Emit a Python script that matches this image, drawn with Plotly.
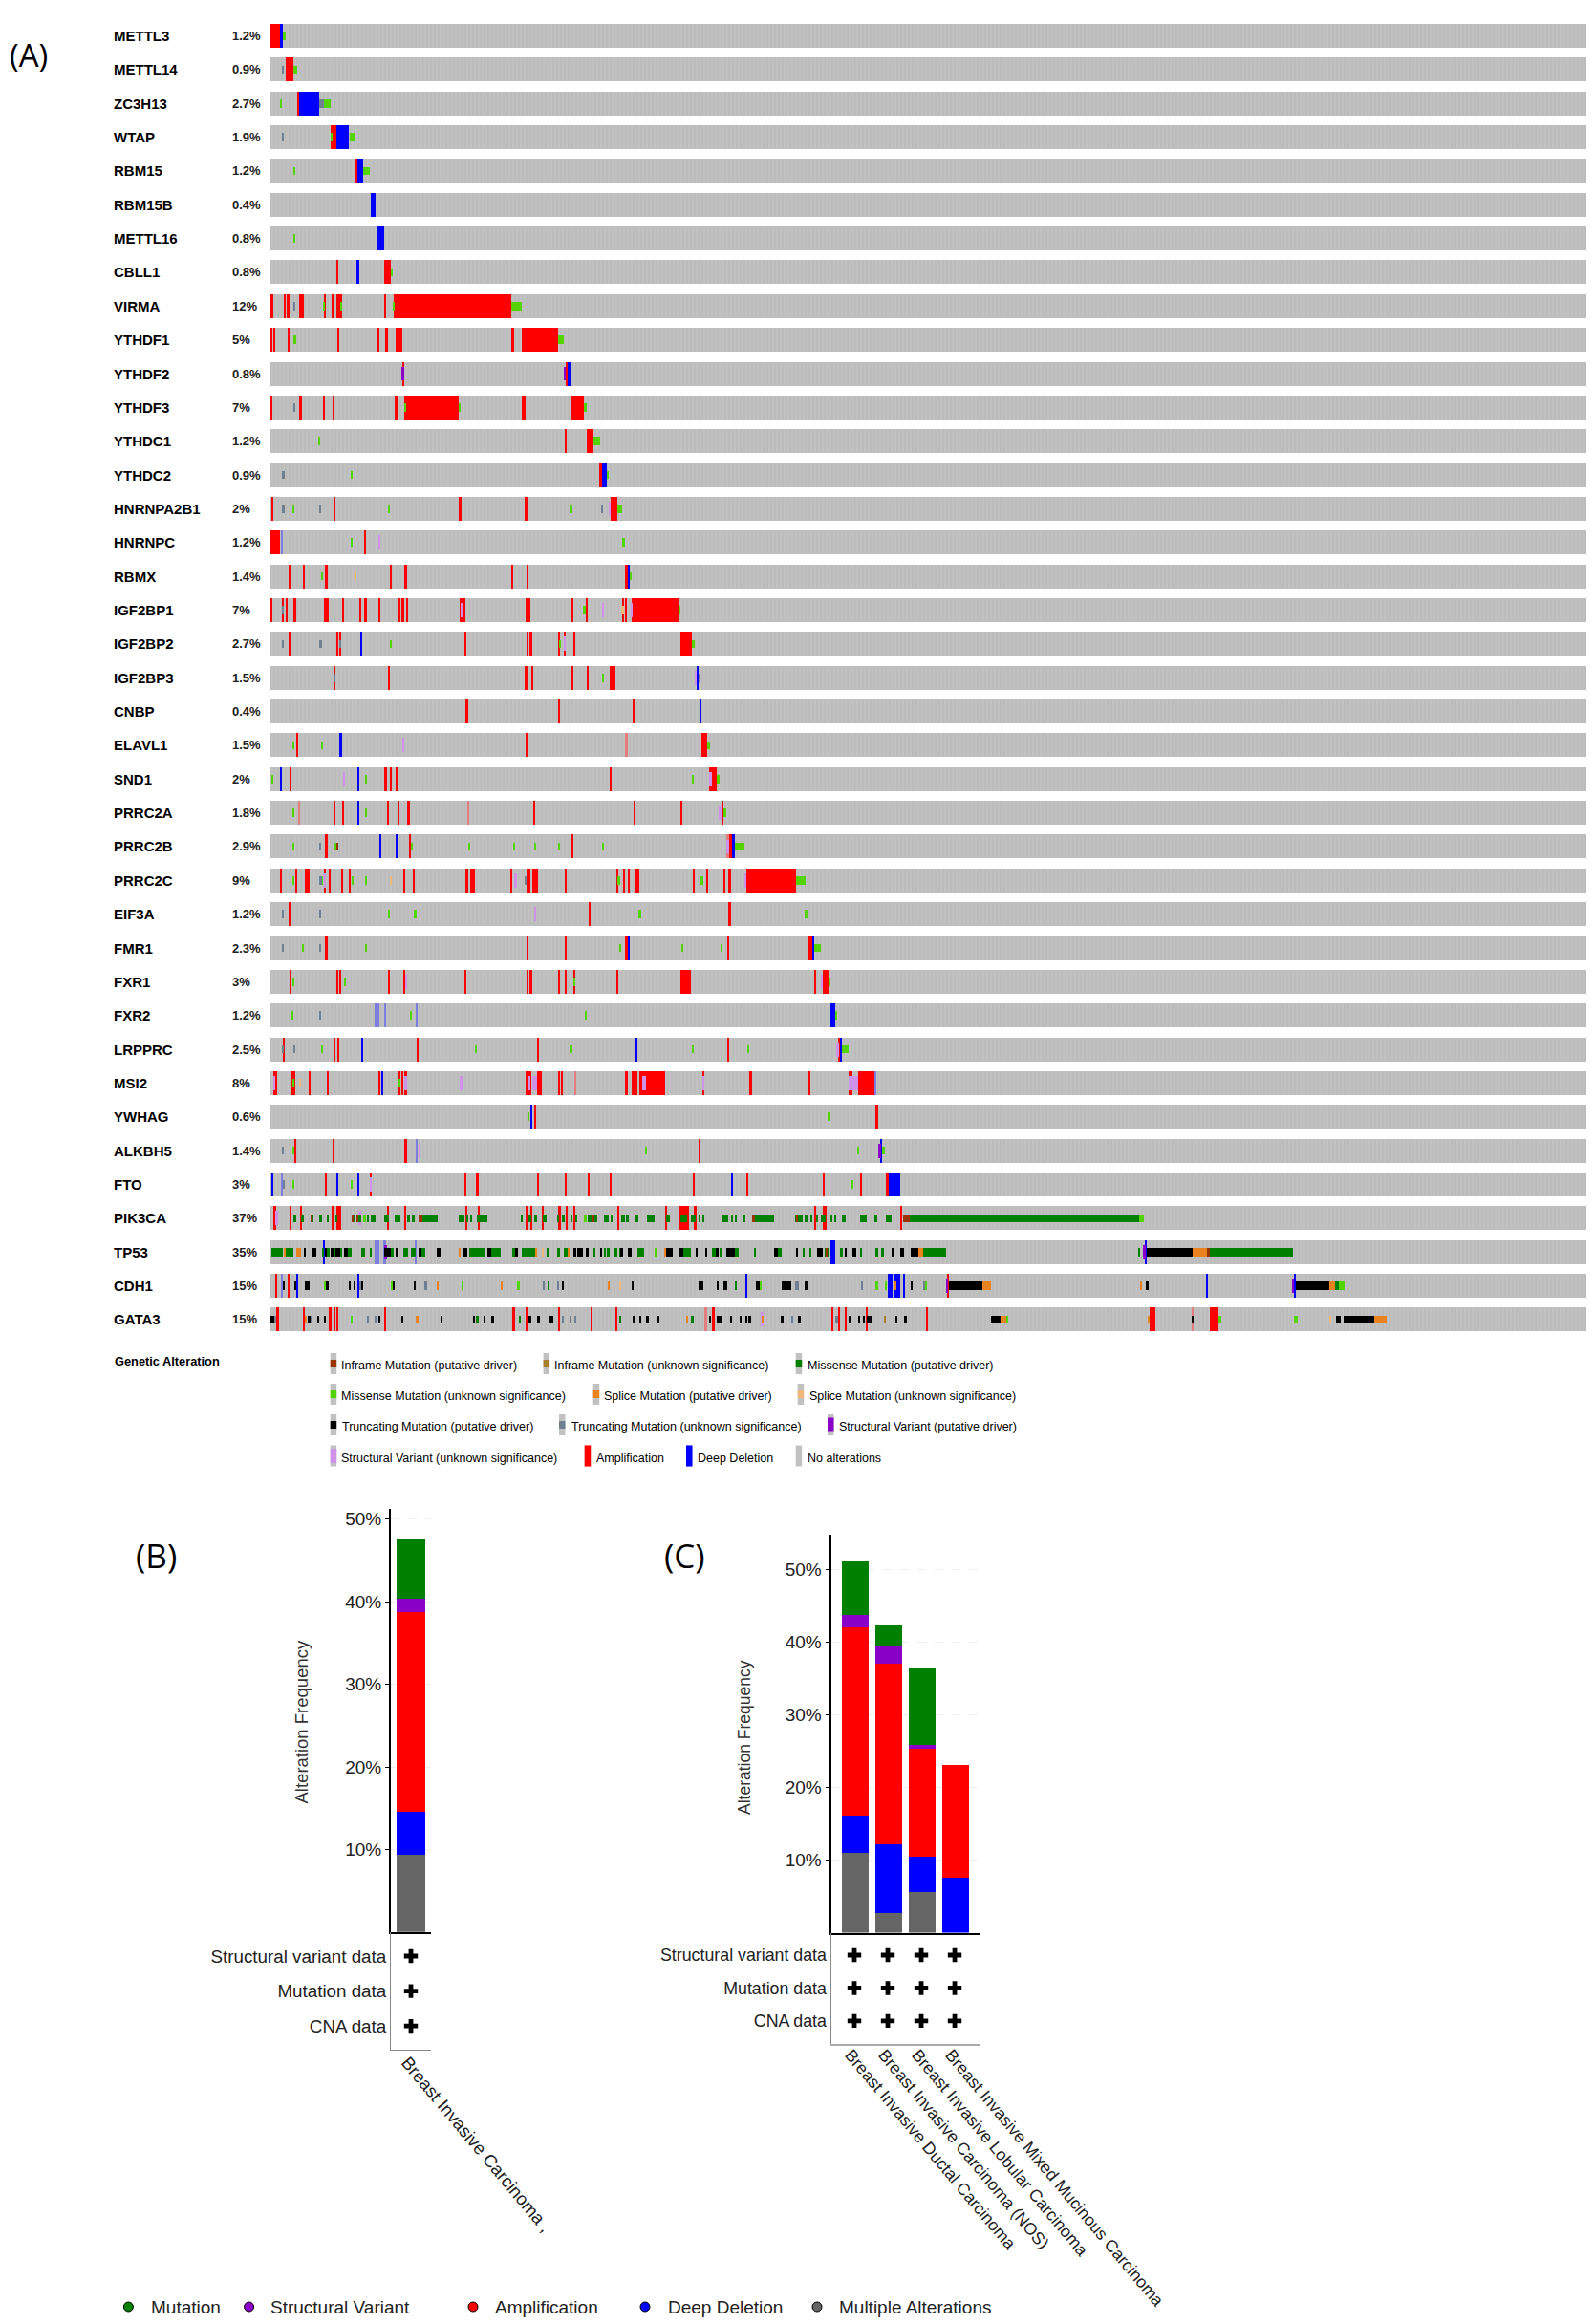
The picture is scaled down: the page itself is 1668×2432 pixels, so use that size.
#!/usr/bin/env python3

import numpy as np
import plotly.graph_objects as go

W, H = 1668, 2432
FONT = 'Liberation Sans'
BODY_MARGIN = 8  # the page's default body margin pushes the svg right and down

# oncoprint values, one list per gene: (alteration, first sample, n samples)
N_SAMPLES = 1091

METTL3 = [('amp', 0, 8), ('del', 8, 2), ('msu', 10, 3)]
METTL14 = [('tru', 10, 1), ('amp', 13, 6), ('msu', 19, 3)]
ZC3H13 = [('msu', 8, 1), ('amp', 22, 2), ('del', 24, 16), ('tru', 40, 4), ('msu', 44, 6)]
WTAP = [('tru', 10, 1), ('msu', 50, 1), ('amp', 50, 5), ('del', 55, 10), ('msu', 66, 4)]
RBM15 = [('msu', 19, 1), ('amp', 70, 2), ('del', 72, 5), ('msu', 77, 5)]
RBM15B = [('del', 83, 4)]
METTL16 = [('msu', 19, 1), ('amp', 88, 1), ('del', 89, 5)]
CBLL1 = [('amp', 54.7, 1.5), ('del', 72, 1.5), ('amp', 94, 6), ('msu', 100, 1)]
VIRMA = [('amp', 0, 2.5), ('amp', 11, 2), ('amp', 13.5, 2), ('tru', 19, 1), ('amp', 24, 4),
         ('amp', 44, 2), ('msu', 44, 1), ('amp', 51, 2), ('amp', 55, 4), ('msu', 58.5, 1),
         ('amp', 94, 2), ('msu', 102, 1), ('amp', 102, 97.5), ('msu', 199.5, 9)]
YTHDF1 = [('amp', 0, 1.5), ('amp', 3, 1), ('amp', 14, 2), ('msu', 19, 2), ('amp', 56, 1),
          ('amp', 89, 1), ('amp', 95, 2), ('amp', 104, 5), ('amp', 199.5, 2),
          ('amp', 208, 30), ('msu', 238, 5)]
YTHDF2 = [('amp', 109, 2), ('svd', 109, 1.5), ('svd', 243, 1.6), ('amp', 245, 1), ('del', 246, 3)]
YTHDF3 = [('amp', 0, 1), ('tru', 19, 1), ('amp', 24, 2), ('amp', 44, 1), ('amp', 52, 1),
          ('amp', 103, 3), ('msu', 111, 1), ('amp', 111, 45), ('msu', 156, 1),
          ('amp', 208, 3), ('amp', 249.6, 10), ('msu', 259.5, 2.5)]
YTHDC1 = [('msu', 40, 1), ('amp', 244.4, 1), ('amp', 262, 5.5), ('msu', 267.5, 5.5)]
YTHDC2 = [('tru', 9.5, 2), ('msu', 66.7, 1.3), ('amp', 273, 1.4), ('del', 274.4, 4), ('msu', 278.4, 2)]
HNRNPA2B1 = [('amp', 1, 1.4), ('tru', 9.5, 2), ('msu', 18.7, 1), ('tru', 40.4, 1.6), ('amp', 53, 1),
             ('msu', 97.4, 1.6), ('amp', 156.7, 1.3), ('amp', 211.3, 1.4), ('msu', 248.5, 1.3),
             ('tru', 274, 1), ('svu', 280.7, 1), ('amp', 281.5, 5.8), ('msu', 287.3, 4.2)]
HNRNPC = [('amp', 0, 8), ('del2', 8.4, 2), ('msu', 66.7, 1.3), ('amp', 77.6, 1.4),
          ('svu', 89.7, 1.6), ('msu', 291.3, 2.4)]
RBMX = [('amp', 15.8, 1), ('amp', 27.7, 1), ('msu', 42, 1), ('amp', 45.9, 1.3), ('spu', 70.2, 1),
        ('amp', 99, 1), ('amp', 111.6, 1.4), ('amp', 199.7, 1), ('amp', 212.4, 1.3),
        ('amp', 293.7, 2.1), ('del', 295.8, 1.6), ('msu', 297.4, 1.8)]
IGF2BP1 = [('amp', 0, 1.3), ('amp', 9.5, 1.8), ('tru', 9.5, 1.8), ('amp', 13.2, 1.3), ('amp', 18.7, 2.3),
           ('amp', 45, 1.5), ('amp', 47.2, 1.3), ('amp', 59, 1.7), ('amp', 73.3, 1.7), ('amp', 77.6, 2.6),
           ('amp', 89.7, 1.6), ('amp', 106, 2), ('amp', 108.4, 2.4), ('amp', 113.2, 1),
           ('amp', 156.7, 4.8), ('svu', 157.8, 1.2), ('amp', 211.3, 1.7), ('amp', 213.7, 1.3),
           ('amp', 249.6, 1.4), ('msu', 259.6, 1.4), ('amp', 262, 1), ('svu', 275.2, 1.1),
           ('amp', 291.3, 1.7), ('spu', 291.3, 1.3), ('amp', 293.4, 1.6), ('amp', 299.2, 39.3),
           ('svu', 299.2, 1.1), ('msu', 338.5, 1.1)]
IGF2BP2 = [('amp', 15.8, 1), ('tru', 9.5, 1.8), ('tru', 40.4, 2.6), ('amp', 54.6, 1.6), ('amp', 57, 1.6),
           ('tru', 57, 1.6), ('del', 74.7, 1.3), ('msu', 99.7, 1), ('amp', 161.5, 1), ('amp', 212, 1.7),
           ('amp', 214.8, 2.2), ('amp', 238.5, 1.5), ('msu', 239.8, 1.2), ('amp', 243, 1.6),
           ('svu', 243, 1.6), ('amp', 251, 1.2), ('amp', 339.3, 9.7), ('msu', 349, 2.7)]
IGF2BP3 = [('amp', 52.8, 1), ('tru', 52.8, 1), ('amp', 97.4, 1.6), ('amp', 211.3, 1.4), ('amp', 216.9, 1),
           ('amp', 249.6, 1.4), ('amp', 262.8, 1.2), ('msu', 275.2, 1.1), ('amp', 281.3, 4.5),
           ('svu', 351.7, 1.1), ('del', 353, 1.9), ('tru', 354.9, 1.3)]
CNBP = [('amp', 161.7, 1.9), ('amp', 238.5, 1.5), ('amp', 300, 1.6), ('del', 356, 1.3)]
ELAVL1 = [('msu', 18.7, 1), ('amp', 21.9, 1.3), ('msu', 42, 1), ('del', 57, 2.4), ('svu', 110, 1),
          ('amp', 211.3, 2.4), ('amp2', 294.5, 1.5), ('amp', 357, 4.5), ('msu', 361.5, 2.4)]
SND1 = [('msu', 0.8, 1.6), ('del', 8, 1.5), ('amp', 16.4, 1.3), ('svu', 60.4, 1.6), ('del', 72, 1.6),
        ('msu', 78.9, 1.3), ('amp', 94.2, 2.6), ('amp', 99, 1), ('amp', 104, 1.3), ('amp', 281.3, 1.5),
        ('msu', 349, 1.7), ('amp', 363.6, 5.8), ('svu', 363.6, 2.4), ('msu', 369.6, 2.4)]
PRRC2A = [('msu', 18.7, 1), ('amp2', 23, 1.3), ('amp', 52.8, 1), ('amp', 59, 1.7), ('del', 72, 1.6),
          ('msu', 78.9, 1.3), ('amp', 96.6, 1), ('amp', 105.3, 1), ('amp', 114, 1.3), ('amp2', 163.3, 1.1),
          ('amp', 217.7, 1.6), ('amp', 301.6, 1), ('amp', 339.3, 1.7), ('svu', 372, 1.4),
          ('amp', 373.6, 1.6), ('msu', 375.2, 2.8)]
PRRC2B = [('msu', 18.7, 1), ('tru', 40.4, 1.6), ('amp', 45.9, 1.3), ('msu', 53.6, 1.4), ('ifd', 55, 1),
          ('del', 91, 1), ('del', 104, 1.3), ('amp', 115, 1), ('msu', 116.4, 1.8), ('msu', 164, 1.4),
          ('msu', 201.3, 1.3), ('msu', 219, 1.3), ('msu', 238.5, 1.5), ('amp', 249.6, 1.4),
          ('msu', 275, 1.3), ('amp2', 377.8, 1.9), ('svu', 377.8, 1.9), ('amp', 380, 2.3),
          ('del', 382.3, 2.4), ('msu', 384.7, 7.9)]
PRRC2C = [('amp', 8, 1.2), ('amp', 20.8, 1.4), ('msu', 18.7, 1), ('amp', 28.5, 3.7), ('tru', 40.4, 2.3),
          ('msu', 42, 0.8), ('amp', 45, 1.2), ('svu', 45, 1.2), ('amp', 48.3, 1.3), ('amp', 58.6, 1),
          ('amp', 65, 1), ('msu', 67.5, 1.4), ('msu', 78.9, 1.3), ('spu', 99.7, 1), ('amp', 110.8, 1),
          ('amp', 118.2, 1.3), ('amp', 161.7, 2.1), ('amp', 165.4, 4.3), ('amp', 199.5, 1),
          ('svu', 202.6, 1.4), ('tru', 211.3, 1.1), ('amp', 212.4, 2.9), ('amp', 216.9, 2.4),
          ('amp', 220, 1.4), ('amp', 244.6, 1), ('amp', 287.3, 1), ('msu', 288, 1.4), ('amp', 292.4, 1.3),
          ('amp', 296.8, 1), ('amp', 302, 3.8), ('amp', 350.7, 1), ('msu', 357, 1.3), ('amp', 361.2, 1.3),
          ('amp', 375.5, 1.5), ('amp', 380, 1.5), ('amp', 394.2, 41), ('svu', 392.6, 1.8), ('msu', 435.2, 7.8)]
EIF3A = [('tru', 9.5, 1.8), ('amp', 15.8, 1), ('tru', 40.4, 1.6), ('msu', 97.4, 1.6), ('msu', 119.5, 1.3),
         ('svu', 219, 1.3), ('amp', 263.9, 1.3), ('msu', 305.5, 1.4), ('amp', 380, 1.5), ('msu', 442.5, 3.2)]
FMR1 = [('tru', 9.5, 1.8), ('msu', 26, 1.7), ('tru', 40.4, 1.6), ('amp', 45.9, 1.3), ('msu', 78.9, 1.3),
        ('amp', 212.4, 1.3), ('amp', 244.6, 1), ('msu', 288.9, 1.6), ('amp', 293.7, 2.1), ('del', 295.8, 1.6),
        ('msu', 340.6, 1.4), ('msu', 373.6, 1.1), ('amp', 379, 1), ('amp', 445.7, 2.9), ('del', 448.6, 1.9),
        ('msu', 450.5, 5.5)]
FXR1 = [('amp', 16.4, 1.3), ('msu', 18.7, 1), ('amp', 54.6, 1.6), ('amp', 57, 1.6), ('msu', 61.7, 1),
        ('amp', 97.4, 1.6), ('amp', 110.8, 1.1), ('svu', 111.9, 1.3), ('amp', 161.5, 1), ('amp', 212, 1.7),
        ('amp', 214.8, 2.2), ('amp', 238.5, 1.5), ('amp', 244.6, 1), ('amp', 251, 1.2), ('msu', 251, 1.2),
        ('amp', 287.3, 1), ('amp', 339.3, 9), ('amp', 450.5, 1), ('svu', 456, 1.6), ('amp', 457.6, 4.7),
        ('msu', 462.3, 1.9)]
FXR2 = [('msu', 17.4, 1.6), ('tru', 40.4, 1.6), ('del2', 86.5, 1.5), ('del2', 88.7, 1.5), ('del2', 94.2, 1.6),
        ('msu', 115.8, 1.6), ('del2', 120.3, 1.7), ('msu', 260.7, 1.3), ('del', 464.2, 3.8), ('msu', 468, 1)]
LRPPRC = [('tru', 9.5, 1.8), ('amp', 11, 1.1), ('tru', 19, 1), ('msu', 42, 1), ('amp', 52.8, 1), ('amp', 56.2, 1),
          ('del', 76, 1), ('amp', 121.4, 1.3), ('msu', 169.7, 1.3), ('amp', 221.4, 1), ('msu', 248.5, 1.5),
          ('del', 302, 1.7), ('msu', 349, 1.7), ('amp', 379, 1), ('msu', 395.3, 1.3), ('svu', 469, 2),
          ('amp', 471, 1), ('del', 472, 1.4), ('msu', 473.4, 5.6)]
MSI2 = [('amp', 2.4, 3.1), ('svu', 2.4, 1.3), ('amp', 17.4, 3.4), ('msu', 18.7, 1), ('spu', 24, 1.3),
        ('amp', 32, 1.2), ('amp', 47, 1.6), ('amp', 89.7, 1.6), ('del', 91.8, 1.6), ('amp', 106, 2),
        ('msu', 106, 2), ('amp', 108.4, 1.6), ('amp', 111.6, 1.4), ('svu', 111.6, 1.4), ('svu', 157.5, 1.5),
        ('amp', 211.3, 1.7), ('amp', 213.7, 2.3), ('svu', 213.7, 1.5), ('svu', 217, 4), ('amp', 221, 4),
        ('amp', 238.5, 1.5), ('amp', 241.2, 1), ('amp2', 251.8, 1.5), ('amp', 293.7, 2.3), ('amp', 299.2, 4.8),
        ('amp', 305.5, 21.1), ('svu', 307.7, 3.3), ('amp', 357.8, 1.6), ('svu', 357.8, 1.6), ('amp', 396.3, 2.7),
        ('amp', 445.7, 1.6), ('amp', 478.7, 3.4), ('svu', 478.7, 8.4), ('amp', 487.1, 14), ('del2', 501.1, 1)]
YWHAG = [('msu', 213.2, 1.6), ('del', 215.8, 1.1), ('amp', 219, 1.3), ('msu', 462.3, 1.4), ('amp', 501.4, 2.1)]
ALKBH5 = [('tru', 9.5, 1.8), ('msu', 18.7, 1), ('amp', 19.8, 1.6), ('amp', 51.5, 1.5), ('amp', 111.6, 1.4),
          ('del2', 120.3, 1.7), ('svu', 122.7, 1.6), ('msu', 311, 1), ('amp', 354.9, 1.3), ('msu', 486.8, 1.2),
          ('svd', 503.7, 2.1), ('del', 505.8, 1.2), ('msu', 507, 1.7)]
FTO = [('del', 0.8, 1.6), ('del2', 8.7, 1.6), ('tru', 10.3, 1), ('msu', 18.7, 1), ('amp', 45, 2), ('del', 54.6, 1.6),
       ('msu', 66.7, 1.3), ('del', 72, 1.6), ('amp', 82.3, 1.7), ('svu', 82.3, 1.7), ('amp', 161.5, 1),
       ('amp', 171, 1.3), ('amp', 221.4, 1), ('amp', 244.6, 1), ('amp', 263, 1), ('amp', 281.3, 1.5),
       ('amp', 350.7, 1), ('del', 382.3, 1.1), ('amp', 394.5, 1), ('amp', 458, 1), ('msu', 482, 1),
       ('amp', 489, 1), ('amp', 510, 2), ('del', 512, 10)]
PIK3CA = [('amp', 2, 3), ('svu', 4, 2), ('amp', 16, 1.5), ('amp', 25, 1), ('msd', 19, 2), ('msd', 25, 2.5),
          ('msd', 33, 3), ('ifd', 34, 1), ('msd', 40, 3), ('msd', 47, 1.5), ('amp', 51, 1), ('msd', 54, 1.5),
          ('amp', 55, 1.5), ('amp', 57, 1.5), ('msd', 67, 3.5), ('ifd', 68, 1), ('ifd', 72, 1), ('msd', 73, 2),
          ('svu', 73, 2), ('msu', 77, 2.5), ('msd', 80, 1.5), ('msd', 83, 4), ('amp', 97, 1.5), ('msd', 94, 4),
          ('msd', 103, 4.5), ('amp', 111, 1), ('msd', 113, 2.5), ('msd', 117, 2.5), ('ifd', 123, 2.5),
          ('msd', 125.5, 13), ('msd', 156, 5), ('amp', 162, 1), ('msd', 163, 1), ('msd', 166, 1), ('msd', 171, 9),
          ('amp', 172, 1), ('msd', 208, 1), ('amp', 212, 1.5), ('msd', 213, 3), ('amp', 215, 2), ('msd', 219, 1.5),
          ('amp', 225, 1), ('msd', 226, 3), ('msd', 238, 1), ('amp', 239, 1.5), ('msd', 242, 1.5), ('amp', 245, 1),
          ('msd', 249, 1.5), ('amp', 251, 1.5), ('msd', 253, 1.5), ('msu', 260, 2), ('msd', 263, 4), ('ifd', 267, 1.5),
          ('msd', 268.5, 2), ('msd', 276.5, 4), ('msd', 282, 1.5), ('amp', 287.5, 1), ('msd', 290.5, 3), ('msd', 295, 1.5),
          ('msd', 303, 1.5), ('msd', 312, 6.5), ('amp', 327, 1), ('msd', 327.5, 3.5), ('amp', 339, 8), ('msd', 339.5, 5.5),
          ('msd', 348, 4.5), ('amp', 351, 2), ('msd', 355, 1.5), ('msd', 358, 1.5), ('msd', 374, 5), ('msd', 382, 1),
          ('msd', 385.5, 1), ('msd', 392, 1.5), ('ifd', 399, 2.5), ('msd', 401.5, 16), ('msd', 435, 2), ('ifd', 435.5, 1.5),
          ('msd', 437, 4), ('msd', 442.5, 2.5), ('msd', 447, 2), ('amp', 450.5, 1), ('msd', 452, 2), ('msd', 456, 4),
          ('amp', 458, 2.5), ('msd', 464, 1.5), ('msd', 467.5, 1), ('msd', 473.5, 3), ('msd', 488.5, 5.5), ('msd', 501, 1.5),
          ('msd', 510, 5), ('amp', 521.5, 2), ('ifd', 524, 6), ('msd', 530, 190), ('msu', 720, 4)]
TP53 = [('msd', 1, 9), ('spd', 11, 2), ('msd', 13, 6), ('spd', 21, 4), ('trd', 28, 1), ('trd', 35, 3), ('msd', 43, 1),
        ('del', 44, 1), ('trd', 45, 2), ('msd', 47, 2), ('trd', 50, 2), ('msd', 52, 2), ('trd', 54, 4), ('msd', 58, 1),
        ('trd', 61, 3), ('msd', 64, 3), ('msd', 75, 3), ('msd', 82, 2), ('del2', 86.5, 1.5), ('del2', 88.7, 1.5),
        ('del2', 94.2, 1.5), ('trd', 94, 3), ('svd', 95, 1.5), ('trd', 97, 3), ('msd', 100, 2), ('trd', 104, 2),
        ('msd', 110, 4), ('msd', 116, 4), ('del2', 120, 1.5), ('trd', 123, 2), ('msd', 125, 3), ('trd', 138, 3),
        ('spd', 156, 1.5), ('trd', 159, 4), ('msd', 165, 5), ('msd', 170, 8), ('trd', 180, 3), ('msd', 183, 8),
        ('msd', 200, 3), ('trd', 203, 2), ('msd', 208, 11), ('spd', 219, 2), ('spu', 225, 1), ('msd', 229, 1),
        ('msd', 238, 1.5), ('msd', 243, 3), ('spd', 246, 2), ('trd', 251, 2), ('trd', 254, 5), ('trd', 261, 3),
        ('msd', 268, 1), ('trd', 273, 2), ('msd', 276, 2), ('msd', 279, 2), ('msd', 284, 3), ('msd', 289, 1),
        ('trd', 290, 2), ('trd', 296, 3), ('msd', 304, 5.5), ('msu', 318, 2.5), ('spd', 326, 2), ('trd', 328, 5),
        ('trd', 339, 3), ('msd', 342, 6), ('trd', 352, 2), ('trd', 360, 2), ('msd', 366, 3), ('trd', 369, 2),
        ('msd', 372, 2), ('trd', 378, 7), ('msd', 385, 3), ('msd', 401, 1), ('trd', 417, 3.4), ('msd', 420.4, 3),
        ('trd', 435.4, 1.6), ('msd', 441, 1.5), ('msd', 447, 1), ('trd', 452.8, 4.8), ('msd', 459, 3), ('ifd', 460, 1),
        ('del', 464.2, 3.8), ('msd', 471.8, 2.2), ('trd', 476.5, 1), ('trd', 482, 3.3), ('msd', 488.5, 1.5),
        ('msd', 501, 2.5), ('msd', 506.5, 1.5), ('trd', 515, 1), ('trd', 521.7, 3.2), ('trd', 530.4, 6.3),
        ('spd', 536.7, 4), ('msd', 540.7, 19), ('msd', 719.6, 0.9), ('svd', 723.6, 1.5), ('del', 725, 1),
        ('trd', 726, 38), ('spd', 764, 12.6), ('ifd', 776.6, 1.4), ('msd', 778, 69)]
CDH1 = [('amp', 4, 1.5), ('del2', 8.7, 1.6), ('trd', 10.3, 1), ('trd', 20, 1.5), ('amp', 14, 1.6), ('del', 22, 1.3),
        ('trd', 28.5, 4), ('msu', 44.5, 1), ('trd', 46.5, 1.5), ('trd', 65, 1), ('trd', 69, 1.5), ('del', 72, 1.6),
        ('tru', 74, 1.5), ('trd', 76, 1), ('msu', 100, 1), ('trd', 102, 1), ('trd', 119.5, 1), ('tru', 128, 1.5),
        ('spd', 138, 1.3), ('msu', 159, 1), ('spd', 191, 1), ('msu', 205, 1.3), ('tru', 226, 1), ('msd', 230, 1.5),
        ('tru', 238, 1), ('trd', 241.5, 1.3), ('spd', 279.5, 1), ('spu', 289, 1.5), ('trd', 300, 1), ('trd', 355, 3.5),
        ('trd', 370, 1), ('trd', 375, 3.5), ('msd', 385, 1), ('del', 394, 1.3), ('trd', 402, 3.5), ('msu', 405.5, 1),
        ('trd', 423.5, 8), ('tru', 435, 1), ('tru', 437, 1), ('trd', 442.5, 2.5), ('tru', 489, 1.6), ('msu', 501, 2.5),
        ('msu', 509, 1.6), ('del', 511.4, 4), ('del', 516.2, 5.5), ('spd', 517, 1.5), ('del', 524.9, 0.9),
        ('trd', 530.4, 1.9), ('tru', 540.7, 1.6), ('msu', 542.3, 1.6), ('svd', 559.7, 1.6), ('amp', 561.3, 1),
        ('trd', 562, 27.8), ('spd', 589.8, 7.1), ('spd', 720.4, 1.6), ('trd', 726, 1.5), ('del', 775.8, 0.9),
        ('svd', 847, 1), ('del', 848, 1.8), ('trd', 849.8, 27.8), ('spd', 877.6, 4.2), ('msd', 881.8, 3.2),
        ('msu', 885, 4.8)]
GATA3 = [('trd', 0, 3), ('tru', 3, 2), ('amp', 5.5, 1.5), ('amp', 27.7, 1), ('spd', 28.5, 1.5), ('trd', 31.5, 1.5),
         ('tru', 33.5, 1.5), ('trd', 39.5, 1), ('trd', 45, 1), ('amp', 49, 1.5), ('amp', 52.5, 1.5), ('amp', 54.6, 1.6),
         ('msu', 67, 1.3), ('tru', 80, 1.5), ('tru', 86.5, 1.5), ('trd', 89.5, 1.5), ('amp', 94.5, 1.5), ('trd', 108.5, 1.5),
         ('spd', 121, 1.5), ('trd', 141, 1.5), ('trd', 168, 1.5), ('msd', 171, 1.5), ('trd', 177, 1.5), ('trd', 183, 2.5),
         ('amp', 201, 1.3), ('msd', 206, 1.5), ('amp', 212, 1.5), ('trd', 214, 2.5), ('trd', 221, 2.5), ('trd', 231, 3.3),
         ('amp', 238.5, 1.6), ('tru', 241.5, 1), ('tru', 248, 1), ('tru', 252, 1.5), ('amp', 265.5, 1), ('amp', 286, 1.5),
         ('msd', 289, 1.5), ('trd', 300, 2.5), ('trd', 306, 1.5), ('trd', 311, 2.5), ('trd', 321, 1.5), ('spd', 345, 1.3),
         ('msd', 349, 1.5), ('amp2', 360, 1.5), ('trd', 363.5, 1.5), ('amp', 366.5, 1.5), ('trd', 370, 1.5), ('trd', 372, 1.5),
         ('trd', 381.5, 1), ('trd', 389, 1.5), ('trd', 393.5, 1.5), ('trd', 396.5, 1.5), ('svu', 406, 2.5), ('spd', 407, 1.5),
         ('trd', 423.5, 1.5), ('tru', 431.5, 1.5), ('trd', 437.8, 1.5), ('amp', 465.5, 1), ('tru', 468.6, 1.5), ('amp', 471, 1),
         ('amp', 476.6, 1), ('trd', 479, 1.5), ('trd', 487, 1.5), ('trd', 491, 1.5), ('amp', 494, 1), ('trd', 494, 4.7),
         ('ifu', 508.2, 1.6), ('trd', 518, 1.5), ('trd', 525.7, 1.5), ('amp', 543.6, 1.2), ('trd', 597, 8), ('spd', 605, 4.6),
         ('msu', 609.6, 1.4), ('spd', 727.5, 1), ('amp', 728.3, 4.7), ('amp2', 763, 1.7), ('trd', 764, 1), ('amp', 778, 7.3),
         ('msu', 785.3, 2.4), ('msu', 848, 3.4), ('spu', 877.6, 1.4), ('trd', 883, 1), ('trd', 885, 1.5), ('trd', 889.4, 25.2),
         ('spd', 914.6, 10.2)]

gene_names = ['METTL3', 'METTL14', 'ZC3H13', 'WTAP', 'RBM15', 'RBM15B', 'METTL16', 'CBLL1', 'VIRMA', 'YTHDF1',
              'YTHDF2', 'YTHDF3', 'YTHDC1', 'YTHDC2', 'HNRNPA2B1', 'HNRNPC', 'RBMX', 'IGF2BP1', 'IGF2BP2', 'IGF2BP3',
              'CNBP', 'ELAVL1', 'SND1', 'PRRC2A', 'PRRC2B', 'PRRC2C', 'EIF3A', 'FMR1', 'FXR1', 'FXR2',
              'LRPPRC', 'MSI2', 'YWHAG', 'ALKBH5', 'FTO', 'PIK3CA', 'TP53', 'CDH1', 'GATA3']
gene_pct = ['1.2%', '0.9%', '2.7%', '1.9%', '1.2%', '0.4%', '0.8%', '0.8%', '12%', '5%',
            '0.8%', '7%', '1.2%', '0.9%', '2%', '1.2%', '1.4%', '7%', '2.7%', '1.5%',
            '0.4%', '1.5%', '2%', '1.8%', '2.9%', '9%', '1.2%', '2.3%', '3%', '1.2%',
            '2.5%', '8%', '0.6%', '1.4%', '3%', '37%', '35%', '15%', '15%']
gene_events = [METTL3, METTL14, ZC3H13, WTAP, RBM15, RBM15B, METTL16, CBLL1, VIRMA, YTHDF1,
               YTHDF2, YTHDF3, YTHDC1, YTHDC2, HNRNPA2B1, HNRNPC, RBMX, IGF2BP1, IGF2BP2, IGF2BP3,
               CNBP, ELAVL1, SND1, PRRC2A, PRRC2B, PRRC2C, EIF3A, FMR1, FXR1, FXR2,
               LRPPRC, MSI2, YWHAG, ALKBH5, FTO, PIK3CA, TP53, CDH1, GATA3]

# panel B and C values, alteration frequency in %
profile_rows = ['Structural variant data', 'Mutation data', 'CNA data']

b_types = ['Breast Invasive Carcinoma ,']
b_multi = [9.3]
b_del = [5.3]
b_amp = [24.2]
b_sv = [1.6]
b_mut = [7.3]

c_types = ['Breast Invasive Ductal Carcinoma', 'Breast Invasive Carcinoma (NOS)',
           'Breast Invasive Lobular Carcinoma', 'Breast Invasive Mixed Mucinous Carcinoma']
c_multi = [11.0, 2.7, 5.6, 0]
c_del = [5.1, 9.5, 4.8, 7.6]
c_amp = [26.0, 24.8, 14.9, 15.5]
c_sv = [1.6, 2.6, 0.6, 0]
c_mut = [7.4, 2.8, 10.5, 0]

pct_ticks = [10, 20, 30, 40, 50]

# alteration styling: colour, height of the mark within a row
# (drawing order: copy number first, then structural, then mutations on top)
ROW_H = 0.707
SV_H = 0.42
MUT_H = 0.245
alt_style = {
    'amp': ('#ff0000', ROW_H), 'amp2': ('#e37c7c', ROW_H),
    'del': ('#0000ff', ROW_H), 'del2': ('#7d7de0', ROW_H),
    'svd': ('#8b00c9', SV_H), 'svu': ('#ce92e8', SV_H),
    'msd': ('#008000', MUT_H), 'msu': ('#53d400', MUT_H),
    'trd': ('#000000', MUT_H), 'tru': ('#708090', MUT_H),
    'spd': ('#e98320', MUT_H), 'spu': ('#f0b87b', MUT_H),
    'ifd': ('#993404', MUT_H), 'ifu': ('#a68028', MUT_H),
}
BG_GREY = '#c1c1c1'
bar_colors = {'mut': '#008000', 'sv': '#8b00c9', 'amp': '#ff0000', 'del': '#0000ff', 'multi': '#666666'}


def fx(px):
    return (px - BODY_MARGIN) / W


def fy(px):
    return 1 - (px - BODY_MARGIN) / H


fig = go.Figure()

# ---- panel A
fig.add_trace(go.Bar(y=gene_names, x=[N_SAMPLES] * len(gene_names), base=[0] * len(gene_names),
                     orientation='h', width=ROW_H,
                     marker=dict(color='#bcbcbc', line_width=0,
                                 pattern=dict(shape='|', size=4, solidity=0.5, fgcolor='#c6c6c6', bgcolor='#bcbcbc')),
                     xaxis='x', yaxis='y', showlegend=False, hoverinfo='skip'))
for code, (color, height) in alt_style.items():
    y, start, length = [], [], []
    for name, events in zip(gene_names, gene_events):
        for kind, s, n in events:
            if kind == code:
                y.append(name)
                start.append(s)
                length.append(n)
    if y:
        fig.add_trace(go.Bar(y=y, x=length, base=start, orientation='h', width=height,
                             marker=dict(color=color, line_width=0), name=code,
                             xaxis='x', yaxis='y', showlegend=False))


# ---- panels B and C, stacked by hand since the oncoprint needs barmode overlay
def add_stack(types, series, bar_width, xa, ya):
    bottom = np.zeros(len(types))
    for key, vals in series:
        vals = np.array(vals, dtype=float)
        fig.add_trace(go.Bar(x=types, y=vals, base=bottom.copy(), width=bar_width,
                             marker=dict(color=bar_colors[key], line_width=0),
                             xaxis=xa, yaxis=ya, showlegend=False))
        bottom += vals


def add_plus(types, xa, ya):
    xs = [t for t in types for _ in profile_rows]
    ys = profile_rows * len(types)
    fig.add_trace(go.Scatter(x=xs, y=ys, mode='markers', xaxis=xa, yaxis=ya, showlegend=False,
                             marker=dict(symbol='cross', size=12, color='black', line_width=0)))


add_stack(b_types, [('multi', b_multi), ('del', b_del), ('amp', b_amp), ('sv', b_sv), ('mut', b_mut)],
          1.0, 'x2', 'y2')
add_plus(b_types, 'x3', 'y3')
add_stack(c_types, [('multi', c_multi), ('del', c_del), ('amp', c_amp), ('sv', c_sv), ('mut', c_mut)],
          0.8, 'x4', 'y4')
add_plus(c_types, 'x5', 'y5')

annotations = []


def label(px, py, text, size, anchor='left', bold=False, color='black', family=FONT, angle=0):
    annotations.append(dict(x=fx(px), y=fy(py), xref='paper', yref='paper', text=f'<b>{text}</b>' if bold else text,
                            showarrow=False, xanchor=anchor, yanchor='middle', textangle=angle,
                            font=dict(family=family, size=size, color=color)))


# gene name and percent columns
for name, pct in zip(gene_names, gene_pct):
    annotations.append(dict(x=fx(117), y=name, xref='paper', yref='y', text=f'<b>{name}</b>', showarrow=False,
                            xanchor='left', yanchor='middle', font=dict(family=FONT, size=15, color='black')))
    annotations.append(dict(x=fx(241.5), y=name, xref='paper', yref='y', text=f'<b>{pct}</b>', showarrow=False,
                            xanchor='left', yanchor='middle', font=dict(family=FONT, size=13, color='#222222')))

label(8, 57, '(A)', 33, family='Open Sans')
label(140, 1627, '(B)', 35, family='Open Sans')
label(693, 1627, '(C)', 35, family='Open Sans')
label(118, 1424, 'Genetic Alteration', 12.8, bold=True)

# oncoprint legend: swatch left, text left, row centre, label, alteration code
onco_legend = [
    (345.7, 355, 1427, 'Inframe Mutation (putative driver)', 'ifd'),
    (568.6, 578, 1427, 'Inframe Mutation (unknown significance)', 'ifu'),
    (832.7, 843, 1427, 'Missense Mutation (putative driver)', 'msd'),
    (345.7, 355, 1459, 'Missense Mutation (unknown significance)', 'msu'),
    (620.7, 630, 1459, 'Splice Mutation (putative driver)', 'spd'),
    (834.7, 845, 1459, 'Splice Mutation (unknown significance)', 'spu'),
    (345.7, 356, 1491, 'Truncating Mutation (putative driver)', 'trd'),
    (585, 596, 1491, 'Truncating Mutation (unknown significance)', 'tru'),
    (866, 876, 1491, 'Structural Variant (putative driver)', 'svd'),
    (345.7, 355, 1523.5, 'Structural Variant (unknown significance)', 'svu'),
    (611.7, 622, 1523.5, 'Amplification', 'amp'),
    (718, 728, 1523.5, 'Deep Deletion', 'del'),
    (832.7, 843, 1523.5, 'No alterations', None),
]
shapes = []
for sw, tx, cy, text, code in onco_legend:
    shapes.append(dict(type='rect', xref='paper', yref='paper', x0=fx(sw), x1=fx(sw + 6.5),
                       y0=fy(cy - 11), y1=fy(cy + 11), fillcolor=BG_GREY, line_width=0))
    if code:
        c, h = alt_style[code]
        half = 11 if h == ROW_H else (7.5 if h == SV_H else 4)
        shapes.append(dict(type='rect', xref='paper', yref='paper', x0=fx(sw), x1=fx(sw + 6.5),
                           y0=fy(cy - half), y1=fy(cy + half), fillcolor=c, line_width=0))
    label(tx, cy + 2, text, 12.5)

# bottom legend: dot centre, text left, label, colour
bottom_legend = [(134.4, 156, 'Mutation', 'mut'), (260.6, 281, 'Structural Variant', 'sv'),
                 (495, 516, 'Amplification', 'amp'), (675, 697, 'Deep Deletion', 'del'),
                 (855, 876, 'Multiple Alterations', 'multi')]
for cx, tx, text, key in bottom_legend:
    shapes.append(dict(type='circle', xref='paper', yref='paper', x0=fx(cx - 5), x1=fx(cx + 5),
                       y0=fy(2414 - 5), y1=fy(2414 + 5), fillcolor=bar_colors[key],
                       line=dict(color='black', width=1)))
    label(tx, 2414, text, 19, color='#222222')

label(302, 1802, 'Alteration Frequency', 18.5, color='#333333', angle=-90)
label(767, 1818, 'Alteration Frequency', 17.5, color='#333333', angle=-90)

tick_font = dict(family=FONT, size=19, color='#222222')
row_font = dict(family=FONT, size=18.8, color='#222222')


def pct_axis(top, bottom, ymax, anchor):
    return dict(domain=[fy(bottom), fy(top)], range=[0, ymax], anchor=anchor, automargin=False,
                tickvals=pct_ticks, ticktext=[f'{v}%' for v in pct_ticks], ticks='outside', ticklen=4,
                tickcolor='black', tickfont=tick_font, showline=True, linecolor='black', linewidth=2,
                showgrid=True, gridcolor='#eeeeee', griddash='dash', zeroline=False)


fig.update_layout(
    width=W, height=H, margin=dict(l=0, r=0, t=0, b=0), autosize=False,
    paper_bgcolor='white', plot_bgcolor='white', barmode='overlay', showlegend=False,
    annotations=annotations, shapes=shapes, bargap=0,
    # panel A
    xaxis=dict(domain=[fx(283), fx(1661)], range=[0, N_SAMPLES], visible=False, automargin=False),
    yaxis=dict(domain=[fy(1400), fy(20)], range=[38.54, -0.495], type='category', automargin=False,
               categoryorder='array', categoryarray=gene_names, visible=False, anchor='x'),
    # panel B
    xaxis2=dict(domain=[fx(409), fx(451)], range=[-0.7, 0.7], anchor='y2', showticklabels=False, ticks='',
                showline=True, linecolor='black', linewidth=2, showgrid=False, automargin=False),
    yaxis2=pct_axis(1579, 2021.8, 51.25, 'x2'),
    xaxis3=dict(domain=[fx(409), fx(451)], range=[-0.7, 0.7], anchor='y3', ticks='', tickangle=50,
                tickfont=dict(family=FONT, size=18.6, color='#222222'), ticklabelshift=-4, ticklabelstandoff=-6,
                showline=True, linecolor='#888888', linewidth=1, showgrid=False, automargin=False),
    yaxis3=dict(domain=[fy(2145), fy(2021.8)], range=[2.68, -0.69], type='category', categoryorder='array',
                categoryarray=profile_rows, anchor='x3', ticks='', tickfont=row_font, showline=True,
                linecolor='#888888', linewidth=1, showgrid=False, automargin=False),
    # panel C
    xaxis4=dict(domain=[fx(869.5), fx(1024.6)], range=[-0.7, 3.73], anchor='y4', showticklabels=False, ticks='',
                showline=True, linecolor='black', linewidth=2, showgrid=False, automargin=False),
    yaxis4=pct_axis(1606, 2022.5, 54.8, 'x4'),
    xaxis5=dict(domain=[fx(869.5), fx(1024.6)], range=[-0.7, 3.73], anchor='y5', ticks='', tickangle=50,
                tickfont=dict(family=FONT, size=17.7, color='#222222'), ticklabelshift=-4, ticklabelstandoff=-8,
                showline=True, linecolor='#aaaaaa', linewidth=2, showgrid=False, automargin=False),
    yaxis5=dict(domain=[fy(2139), fy(2022.5)], range=[2.70, -0.683], type='category', categoryorder='array',
                categoryarray=profile_rows, anchor='x5', ticks='', tickfont=dict(family=FONT, size=17.8, color='#222222'),
                showline=True, linecolor='#888888', linewidth=1, showgrid=False, automargin=False),
)

fig.write_html('out.html')
